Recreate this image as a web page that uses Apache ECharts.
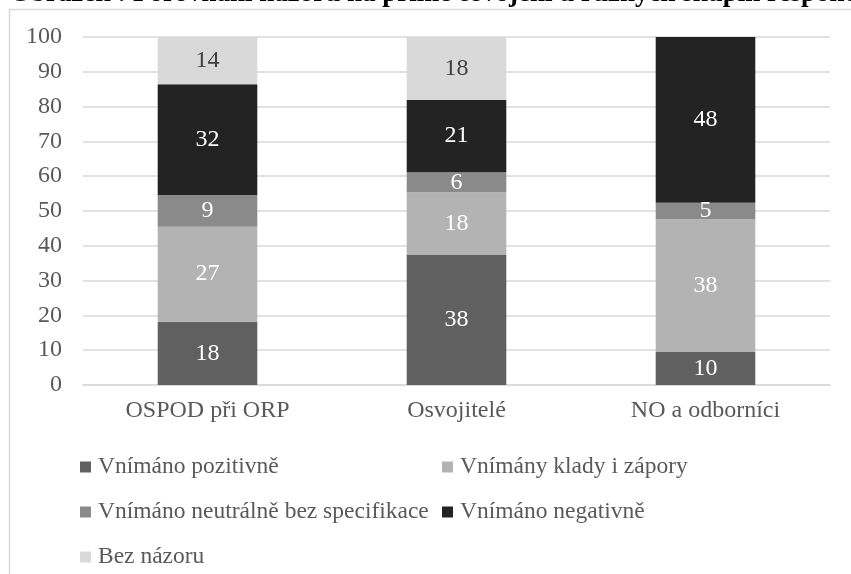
<!DOCTYPE html>
<html>
<head>
<meta charset="utf-8">
<script src="https://cdn.jsdelivr.net/npm/echarts@6/dist/echarts.min.js"></script>
<style>html,body{margin:0;padding:0;background:#fff;}#c{width:851px;height:574px;}</style>
</head>
<body>
<div id="c"></div>
<script>
var titleText = 'Obrázek : Porovnání názorů na přímé osvojení u různých skupin respondentů';
var categories = ['OSPOD při ORP', 'Osvojitelé', 'NO a odborníci'];
var seriesNames = ['Vnímáno pozitivně', 'Vnímány klady i zápory', 'Vnímáno neutrálně bez specifikace', 'Vnímáno negativně', 'Bez názoru'];
var pozitivne = [18.2, 37.5, 9.5];
var klady = [27.3, 17.9, 38.1];
var neutralne = [9.1, 5.7, 4.8];
var negativne = [31.8, 20.8, 47.6];
var bezNazoru = [13.6, 18.1, 0];
var yTicks = [0, 10, 20, 30, 40, 50, 60, 70, 80, 90, 100];

var colors = ['#606060', '#b3b3b3', '#8a8a8a', '#232323', '#d9d9d9'];
var labelColors = ['#ffffff', '#ffffff', '#ffffff', '#ffffff', '#404040'];
var dataSets = [pozitivne, klady, neutralne, negativne, bezNazoru];
var FONT = '"Liberation Serif", "Times New Roman", serif';

var series = seriesNames.map(function (name, i) {
  return {
    name: name,
    type: 'bar',
    stack: 'total',
    barWidth: '40%',
    data: dataSets[i].map(function (v) { return v > 0 ? v : null; }),
    itemStyle: { color: colors[i] },
    label: {
      show: true,
      position: 'inside',
      color: labelColors[i],
      fontFamily: FONT,
      fontSize: 24,
      formatter: function (p) { return Math.round(p.value); }
    }
  };
});

var chart = echarts.init(document.getElementById('c'), null, { renderer: 'canvas' });
chart.setOption({
  backgroundColor: '#ffffff',
  animation: false,
  textStyle: { fontFamily: FONT },
  graphic: [
    {
      type: 'rect',
      shape: { x: 9.5, y: 9.5, width: 1000, height: 1000 },
      style: { fill: 'none', stroke: '#d9d9d9', lineWidth: 1.5 },
      silent: true
    },
    {
      type: 'text',
      x: 10,
      y: -6,
      style: {
        text: titleText,
        fontFamily: FONT,
        fontWeight: 'bold',
        fontSize: 27,
        fill: '#000000',
        verticalAlign: 'middle',
        align: 'left'
      },
      silent: true
    }
  ],
  grid: { left: 83, right: 21, top: 37, bottom: 189, containLabel: false },
  xAxis: {
    type: 'category',
    data: categories,
    axisLine: { show: true, lineStyle: { color: '#d9d9d9', width: 1.5 } },
    axisTick: { show: false },
    axisLabel: { color: '#595959', fontFamily: FONT, fontSize: 24, margin: 14 }
  },
  yAxis: {
    type: 'value',
    min: 0,
    max: 100,
    interval: 10,
    axisLine: { show: false },
    axisTick: { show: false },
    splitLine: { lineStyle: { color: '#d9d9d9', width: 1.5 } },
    axisLabel: {
      color: '#595959', fontFamily: FONT, fontSize: 24, margin: 21,
      formatter: function (v) { return yTicks.indexOf(v) >= 0 ? String(v) : ''; }
    }
  },
  legend: [
    {
      data: [seriesNames[0], seriesNames[2], seriesNames[4]],
      orient: 'vertical',
      left: 80,
      top: 455,
      padding: 0,
      itemWidth: 11,
      itemHeight: 11,
      itemGap: 21,
      icon: 'rect',
      textStyle: { color: '#595959', fontFamily: FONT, fontSize: 23.5, lineHeight: 20, padding: [0, 0, 0, 2] }
    },
    {
      data: [seriesNames[1], seriesNames[3]],
      orient: 'vertical',
      left: 442,
      top: 455,
      padding: 0,
      itemWidth: 11,
      itemHeight: 11,
      itemGap: 21,
      icon: 'rect',
      textStyle: { color: '#595959', fontFamily: FONT, fontSize: 23.5, lineHeight: 20, padding: [0, 0, 0, 2] }
    }
  ],
  series: series
});
</script>
</body>
</html>
